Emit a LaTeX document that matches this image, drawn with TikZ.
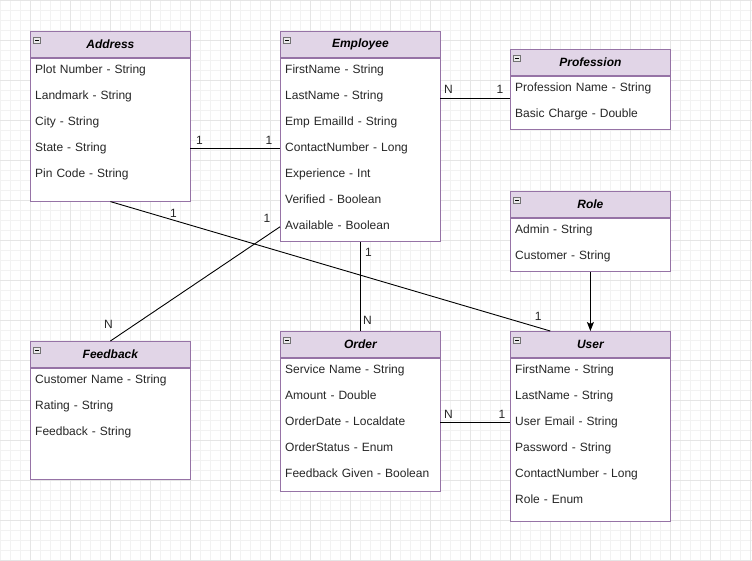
\documentclass[tikz,border=0pt]{standalone}
\usepackage{fontspec}
\setmainfont{Liberation Sans}
\usetikzlibrary{calc,positioning,arrows.meta}
\definecolor{umlborder}{HTML}{9673A6}
\definecolor{umlhead}{HTML}{E1D5E7}

\tikzset{
  head/.style={draw=umlborder, fill=umlhead, line width=0.8pt, minimum width=160pt, minimum height=26pt, anchor=north west, inner sep=0pt, font=\fontsize{12}{14}\selectfont\bfseries\itshape},
  body/.style={draw=umlborder, fill=white, line width=0.8pt, minimum width=160pt, anchor=north, inner sep=0pt},
  attr/.style={anchor=west, text width=150pt, inner xsep=5pt, inner ysep=0pt, text height=9pt, text depth=3pt, minimum height=26pt, align=left, text=black!85},
  minusbox/.style={draw=black!55, fill=black!8, line width=0.6pt, minimum width=7pt, minimum height=6pt, inner sep=0pt,
    path picture={\draw[black, line width=0.7pt] ([xshift=1.5pt]path picture bounding box.west) -- ([xshift=-1.5pt]path picture bounding box.east);}},
  link/.style={draw=black, line width=0.9pt},
  card/.style={inner sep=0pt, text height=9pt, text depth=0pt, text=black!85},
  gridminor/.style={draw=black!5, line width=0.5pt},
  gridmajor/.style={draw=black!10, line width=0.5pt}
}

% name, x, y, title, body height, attributes
\newcommand{\erbox}[6]{%
  \node[head] (#1) at (#2,#3) {#4};
  \node[body, minimum height=#5pt] (#1-b) at (#1.south) {};
  \node[minusbox] (#1-m) at ($(#1.north west)+(7,9.5)$) {};
  \foreach \txt [count=\i] in {#6}
    \node[attr] (#1-\i) at ($(#1.south west)+(0,13+26*\i-26)$) {\txt};
}

\begin{document}
\begin{tikzpicture}[x=1pt,y=-1pt,font=\fontsize{12}{14}\selectfont]
\useasboundingbox (0,0) rectangle (752,561);
\fill[white] (0,0) rectangle (752,561);
\foreach \gx in {0,10,...,750}
    \draw[gridminor] (\gx,0) -- (\gx,561);
\foreach \gy in {0,10,...,560}
    \draw[gridminor] (0,\gy) -- (752,\gy);
\foreach \gx in {30,70,...,750}
    \draw[gridmajor] (\gx,0) -- (\gx,561);
\foreach \gy in {0,40,...,560}
    \draw[gridmajor] (0,\gy) -- (752,\gy);

\erbox{address}{30}{31}{Address}{143}{Plot Number - String, Landmark - String, City - String, State - String, Pin Code - String}
\erbox{employee}{280}{31}{Employee}{183}{FirstName - String, LastName - String, Emp EmailId - String, ContactNumber - Long, Experience - Int, Verified - Boolean, Available - Boolean}
\erbox{profession}{510}{49}{Profession}{53}{Profession Name - String, Basic Charge - Double}
\erbox{role}{510}{191}{Role}{53}{Admin - String, Customer - String}
\erbox{feedback}{30}{341}{Feedback}{111}{Customer Name - String, Rating - String, Feedback - String}
\erbox{order}{280}{331}{Order}{133}{Service Name - String, Amount - Double, OrderDate - Localdate, OrderStatus - Enum, Feedback Given - Boolean}
\erbox{user}{510}{331}{User}{163}{FirstName - String, LastName - String, User Email - String, Password - String, ContactNumber - Long, Role - Enum}

% connectors
\coordinate (ep) at ($(employee-2.east)+(0,2)$);
\coordinate (user-in) at ($(user.north west)!0.25!(user.north east)$);
\path[link] (address-4.east) -- (employee-4.west);
\path[link] (ep) -- (ep -| profession-b.west);
\path[link] (address-b.south) -- (user-in);
\path[link] (employee-7.west) -- (feedback.north);
\path[link] (employee-b.south) -- (order.north);
\path[link] (order-3.east) -- (user-3.west);
\path[link, -{Stealth[length=9pt,width=7pt,inset=2pt]}] (role-b.south) -- (user.north);

% cardinalities
\node[card] (c-ae1) at ($(address-4.east)+(9,-9)$) {1};
\node[card] (c-ae2) at ($(employee-4.west)+(-11,-9)$) {1};
\node[card] (c-ep1) at ($(ep)+(8,-10)$) {N};
\node[card] (c-ep2) at ($(ep -| profession-b.west)+(-10,-10)$) {1};
\node[card] (c-au1) at ($(address-b.south)+(63,11)$) {1};
\node[card] (c-au2) at ($(user-in)+(-12,-15)$) {1};
\node[card] (c-ef1) at ($(employee-7.west)+(-13,-9)$) {1};
\node[card] (c-ef2) at ($(feedback.north)+(-2,-17)$) {N};
\node[card] (c-eo1) at ($(employee-b.south)+(8,10)$) {1};
\node[card] (c-eo2) at ($(order.north)+(7,-11)$) {N};
\node[card] (c-ou1) at ($(order-3.east)+(8,-9)$) {N};
\node[card] (c-ou2) at ($(user-3.west)+(-8,-9)$) {1};
\end{tikzpicture}
\end{document}
